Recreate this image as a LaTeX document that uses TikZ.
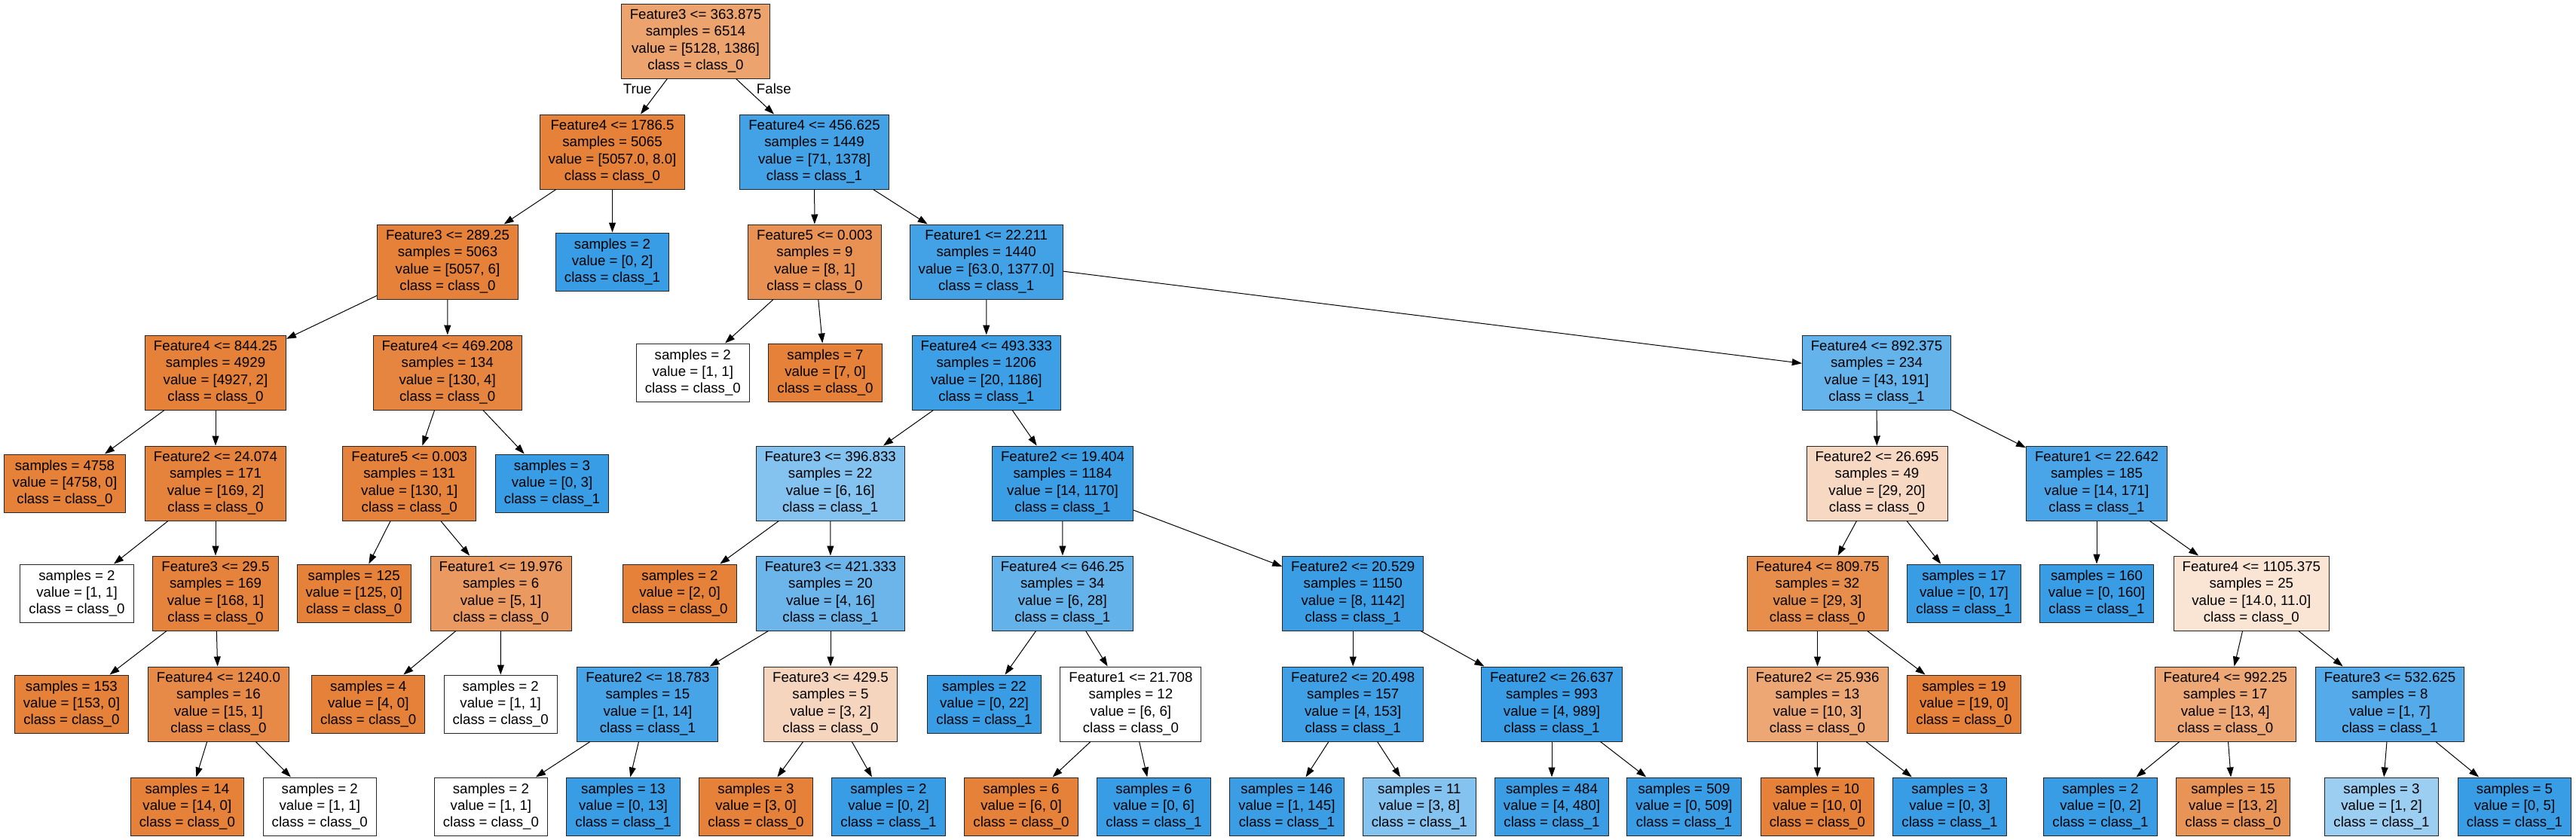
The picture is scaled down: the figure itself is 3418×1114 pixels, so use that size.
\documentclass[tikz,border=0pt]{standalone}
\usepackage{fontspec}
\setmainfont{Liberation Sans}
\usepackage{tikz}
\usetikzlibrary{arrows.meta}
\definecolor{clsA}{RGB}{229,129,57}
\definecolor{clsB}{RGB}{57,157,229}
\tikzstyle{box} = [draw=black!85, line width=1pt, align=center, inner xsep=11.5pt, inner ysep=0pt, font=\fontsize{18.67}{22.4}\selectfont]
\tikzstyle{split} = [box, minimum height=99pt]
\tikzstyle{leaf} = [box, minimum height=77pt]
\tikzstyle{branch} = [line width=1pt, black, -{Triangle[length=13pt,width=9pt]}]

\begin{document}
\begin{tikzpicture}[x=1pt,y=-1pt]
  \useasboundingbox (0,0) rectangle (3418,1114);

  % Level 0
  \node[split, fill=clsA!73] (root) at (923,54.5) {Feature3 <= 363.875\\samples = 6514\\value = [5128, 1386]\\class = class\_0};

  % Level 1
  \node[split, fill=clsA] (l1a) at (812.5,201.5) {Feature4 <= 1786.5\\samples = 5065\\value = [5057.0, 8.0]\\class = class\_0};
  \node[split, fill=clsB!95] (l1b) at (1080.5,201.5) {Feature4 <= 456.625\\samples = 1449\\value = [71, 1378]\\class = class\_1};

  % Level 2
  \node[split, fill=clsA] (l2a) at (594,347.5) {Feature3 <= 289.25\\samples = 5063\\value = [5057, 6]\\class = class\_0};
  \node[leaf, fill=clsB] (l2b) at (812.5,347.5) {samples = 2\\value = [0, 2]\\class = class\_1};
  \node[split, fill=clsA!87] (l2c) at (1081,347.5) {Feature5 <= 0.003\\samples = 9\\value = [8, 1]\\class = class\_0};
  \node[split, fill=clsB!95] (l2d) at (1308.7,347.5) {Feature1 <= 22.211\\samples = 1440\\value = [63.0, 1377.0]\\class = class\_1};

  % Level 3
  \node[split, fill=clsA] (l3a) at (286,494.5) {Feature4 <= 844.25\\samples = 4929\\value = [4927, 2]\\class = class\_0};
  \node[split, fill=clsA!97] (l3b) at (593.7,494.5) {Feature4 <= 469.208\\samples = 134\\value = [130, 4]\\class = class\_0};
  \node[leaf, fill=white] (l3c) at (919.3,494.5) {samples = 2\\value = [1, 1]\\class = class\_0};
  \node[leaf, fill=clsA] (l3d) at (1095,494.5) {samples = 7\\value = [7, 0]\\class = class\_0};
  \node[split, fill=clsB!98] (l3e) at (1308.8,494.5) {Feature4 <= 493.333\\samples = 1206\\value = [20, 1186]\\class = class\_1};
  \node[split, fill=clsB!78] (l3f) at (2490,494.5) {Feature4 <= 892.375\\samples = 234\\value = [43, 191]\\class = class\_1};

  % Level 4
  \node[leaf, fill=clsA] (l4a) at (86,641.5) {samples = 4758\\value = [4758, 0]\\class = class\_0};
  \node[split, fill=clsA!99] (l4b) at (286,641.5) {Feature2 <= 24.074\\samples = 171\\value = [169, 2]\\class = class\_0};
  \node[split, fill=clsA!99] (l4c) at (543.3,641.5) {Feature5 <= 0.003\\samples = 131\\value = [130, 1]\\class = class\_0};
  \node[leaf, fill=clsB] (l4d) at (732.5,641.5) {samples = 3\\value = [0, 3]\\class = class\_1};
  \node[split, fill=clsB!62] (l4e) at (1101.7,641.5) {Feature3 <= 396.833\\samples = 22\\value = [6, 16]\\class = class\_1};
  \node[split, fill=clsB!99] (l4f) at (1410,641.5) {Feature2 <= 19.404\\samples = 1184\\value = [14, 1170]\\class = class\_1};
  \node[split, fill=clsA!31] (l4g) at (2490.5,641.5) {Feature2 <= 26.695\\samples = 49\\value = [29, 20]\\class = class\_0};
  \node[split, fill=clsB!92] (l4h) at (2782,641.5) {Feature1 <= 22.642\\samples = 185\\value = [14, 171]\\class = class\_1};

  % Level 5
  \node[leaf, fill=white] (l5a) at (102,787.5) {samples = 2\\value = [1, 1]\\class = class\_0};
  \node[split, fill=clsA!99] (l5b) at (286,787.5) {Feature3 <= 29.5\\samples = 169\\value = [168, 1]\\class = class\_0};
  \node[leaf, fill=clsA] (l5c) at (469.7,787.5) {samples = 125\\value = [125, 0]\\class = class\_0};
  \node[split, fill=clsA!80] (l5d) at (664.6,787.5) {Feature1 <= 19.976\\samples = 6\\value = [5, 1]\\class = class\_0};
  \node[leaf, fill=clsA] (l5e) at (902,787.5) {samples = 2\\value = [2, 0]\\class = class\_0};
  \node[split, fill=clsB!75] (l5f) at (1102,787.5) {Feature3 <= 421.333\\samples = 20\\value = [4, 16]\\class = class\_1};
  \node[split, fill=clsB!79] (l5g) at (1409.8,787.5) {Feature4 <= 646.25\\samples = 34\\value = [6, 28]\\class = class\_1};
  \node[split, fill=clsB!99] (l5h) at (1795.2,787.5) {Feature2 <= 20.529\\samples = 1150\\value = [8, 1142]\\class = class\_1};
  \node[split, fill=clsA!90] (l5i) at (2411.5,787.5) {Feature4 <= 809.75\\samples = 32\\value = [29, 3]\\class = class\_0};
  \node[leaf, fill=clsB] (l5j) at (2606,787.5) {samples = 17\\value = [0, 17]\\class = class\_1};
  \node[leaf, fill=clsB] (l5k) at (2782,787.5) {samples = 160\\value = [0, 160]\\class = class\_1};
  \node[split, fill=clsA!21] (l5l) at (2987.3,787.5) {Feature4 <= 1105.375\\samples = 25\\value = [14.0, 11.0]\\class = class\_0};

  % Level 6
  \node[leaf, fill=clsA] (l6a) at (94.9,934.5) {samples = 153\\value = [153, 0]\\class = class\_0};
  \node[split, fill=clsA!93] (l6b) at (290,934.5) {Feature4 <= 1240.0\\samples = 16\\value = [15, 1]\\class = class\_0};
  \node[leaf, fill=clsA] (l6c) at (488.8,934.5) {samples = 4\\value = [4, 0]\\class = class\_0};
  \node[leaf, fill=white] (l6d) at (664.2,934.5) {samples = 2\\value = [1, 1]\\class = class\_0};
  \node[split, fill=clsB!93] (l6e) at (859.4,934.5) {Feature2 <= 18.783\\samples = 15\\value = [1, 14]\\class = class\_1};
  \node[split, fill=clsA!33] (l6f) at (1102,934.5) {Feature3 <= 429.5\\samples = 5\\value = [3, 2]\\class = class\_0};
  \node[leaf, fill=clsB] (l6g) at (1306,934.5) {samples = 22\\value = [0, 22]\\class = class\_1};
  \node[split, fill=white] (l6h) at (1500.4,934.5) {Feature1 <= 21.708\\samples = 12\\value = [6, 6]\\class = class\_0};
  \node[split, fill=clsB!97] (l6i) at (1795.2,934.5) {Feature2 <= 20.498\\samples = 157\\value = [4, 153]\\class = class\_1};
  \node[split, fill=clsB] (l6j) at (2059,934.5) {Feature2 <= 26.637\\samples = 993\\value = [4, 989]\\class = class\_1};
  \node[split, fill=clsA!70] (l6k) at (2411.5,934.5) {Feature2 <= 25.936\\samples = 13\\value = [10, 3]\\class = class\_0};
  \node[leaf, fill=clsA] (l6l) at (2606,934.5) {samples = 19\\value = [19, 0]\\class = class\_0};
  \node[split, fill=clsA!69] (l6m) at (2952.7,934.5) {Feature4 <= 992.25\\samples = 17\\value = [13, 4]\\class = class\_0};
  \node[split, fill=clsB!86] (l6n) at (3171,934.5) {Feature3 <= 532.625\\samples = 8\\value = [1, 7]\\class = class\_1};

  % Level 7
  \node[leaf, fill=clsA] (l7a) at (248.4,1070.5) {samples = 14\\value = [14, 0]\\class = class\_0};
  \node[leaf, fill=white] (l7b) at (424.3,1070.5) {samples = 2\\value = [1, 1]\\class = class\_0};
  \node[leaf, fill=white] (l7c) at (651.4,1070.5) {samples = 2\\value = [1, 1]\\class = class\_0};
  \node[leaf, fill=clsB] (l7d) at (827,1070.5) {samples = 13\\value = [0, 13]\\class = class\_1};
  \node[leaf, fill=clsA] (l7e) at (1003,1070.5) {samples = 3\\value = [3, 0]\\class = class\_0};
  \node[leaf, fill=clsB] (l7f) at (1179,1070.5) {samples = 2\\value = [0, 2]\\class = class\_1};
  \node[leaf, fill=clsA] (l7g) at (1355,1070.5) {samples = 6\\value = [6, 0]\\class = class\_0};
  \node[leaf, fill=clsB] (l7h) at (1531,1070.5) {samples = 6\\value = [0, 6]\\class = class\_1};
  \node[leaf, fill=clsB!99] (l7i) at (1707.4,1070.5) {samples = 146\\value = [1, 145]\\class = class\_1};
  \node[leaf, fill=clsB!62] (l7j) at (1883.3,1070.5) {samples = 11\\value = [3, 8]\\class = class\_1};
  \node[leaf, fill=clsB!99] (l7k) at (2059,1070.5) {samples = 484\\value = [4, 480]\\class = class\_1};
  \node[leaf, fill=clsB] (l7l) at (2234.5,1070.5) {samples = 509\\value = [0, 509]\\class = class\_1};
  \node[leaf, fill=clsA] (l7m) at (2411.3,1070.5) {samples = 10\\value = [10, 0]\\class = class\_0};
  \node[leaf, fill=clsB] (l7n) at (2587,1070.5) {samples = 3\\value = [0, 3]\\class = class\_1};
  \node[leaf, fill=clsB] (l7o) at (2787,1070.5) {samples = 2\\value = [0, 2]\\class = class\_1};
  \node[leaf, fill=clsA!85] (l7p) at (2963,1070.5) {samples = 15\\value = [13, 2]\\class = class\_0};
  \node[leaf, fill=clsB!50] (l7q) at (3160,1070.5) {samples = 3\\value = [1, 2]\\class = class\_1};
  \node[leaf, fill=clsB] (l7r) at (3336.5,1070.5) {samples = 5\\value = [0, 5]\\class = class\_1};

  % Edges
  \draw[branch] (root) -- (l1a);
  \draw[branch] (root) -- (l1b);
  \node[font=\fontsize{18.67}{22.4}\selectfont] (yes) at (845.7,118.3) {True};
  \node[font=\fontsize{18.67}{22.4}\selectfont] (no) at (1026.8,118.3) {False};

  \draw[branch] (l1a) -- (l2a);
  \draw[branch] (l1a) -- (l2b);
  \draw[branch] (l1b) -- (l2c);
  \draw[branch] (l1b) -- (l2d);

  \draw[branch] (l2a) -- (l3a);
  \draw[branch] (l2a) -- (l3b);
  \draw[branch] (l2c) -- (l3c);
  \draw[branch] (l2c) -- (l3d);
  \draw[branch] (l2d) -- (l3e);
  \draw[branch] (l2d) -- (l3f);

  \draw[branch] (l3a) -- (l4a);
  \draw[branch] (l3a) -- (l4b);
  \draw[branch] (l3b) -- (l4c);
  \draw[branch] (l3b) -- (l4d);
  \draw[branch] (l3e) -- (l4e);
  \draw[branch] (l3e) -- (l4f);
  \draw[branch] (l3f) -- (l4g);
  \draw[branch] (l3f) -- (l4h);

  \draw[branch] (l4b) -- (l5a);
  \draw[branch] (l4b) -- (l5b);
  \draw[branch] (l4c) -- (l5c);
  \draw[branch] (l4c) -- (l5d);
  \draw[branch] (l4e) -- (l5e);
  \draw[branch] (l4e) -- (l5f);
  \draw[branch] (l4f) -- (l5g);
  \draw[branch] (l4f) -- (l5h);
  \draw[branch] (l4g) -- (l5i);
  \draw[branch] (l4g) -- (l5j);
  \draw[branch] (l4h) -- (l5k);
  \draw[branch] (l4h) -- (l5l);

  \draw[branch] (l5b) -- (l6a);
  \draw[branch] (l5b) -- (l6b);
  \draw[branch] (l5d) -- (l6c);
  \draw[branch] (l5d) -- (l6d);
  \draw[branch] (l5f) -- (l6e);
  \draw[branch] (l5f) -- (l6f);
  \draw[branch] (l5g) -- (l6g);
  \draw[branch] (l5g) -- (l6h);
  \draw[branch] (l5h) -- (l6i);
  \draw[branch] (l5h) -- (l6j);
  \draw[branch] (l5i) -- (l6k);
  \draw[branch] (l5i) -- (l6l);
  \draw[branch] (l5l) -- (l6m);
  \draw[branch] (l5l) -- (l6n);

  \draw[branch] (l6b) -- (l7a);
  \draw[branch] (l6b) -- (l7b);
  \draw[branch] (l6e) -- (l7c);
  \draw[branch] (l6e) -- (l7d);
  \draw[branch] (l6f) -- (l7e);
  \draw[branch] (l6f) -- (l7f);
  \draw[branch] (l6h) -- (l7g);
  \draw[branch] (l6h) -- (l7h);
  \draw[branch] (l6i) -- (l7i);
  \draw[branch] (l6i) -- (l7j);
  \draw[branch] (l6j) -- (l7k);
  \draw[branch] (l6j) -- (l7l);
  \draw[branch] (l6k) -- (l7m);
  \draw[branch] (l6k) -- (l7n);
  \draw[branch] (l6m) -- (l7o);
  \draw[branch] (l6m) -- (l7p);
  \draw[branch] (l6n) -- (l7q);
  \draw[branch] (l6n) -- (l7r);
\end{tikzpicture}
\end{document}
